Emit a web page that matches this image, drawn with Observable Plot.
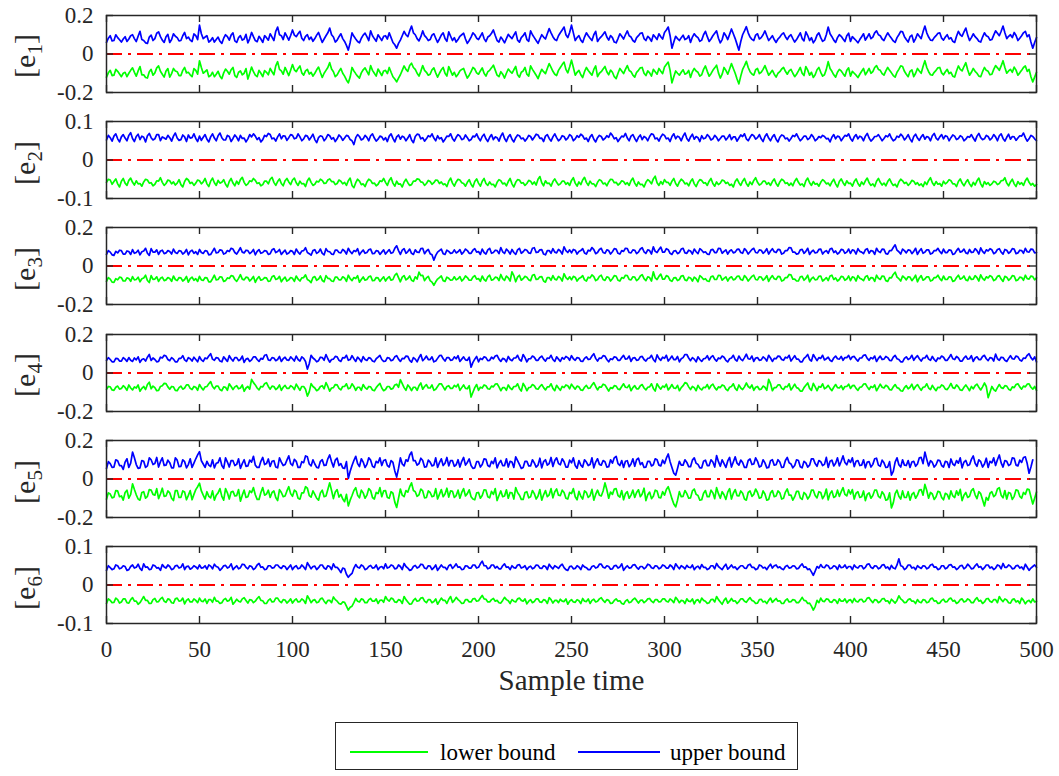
<!DOCTYPE html>
<html><head><meta charset="utf-8">
<script src="https://cdn.jsdelivr.net/npm/d3@7"></script>
<script src="https://cdn.jsdelivr.net/npm/@observablehq/plot@0.6"></script>
<style>
body{margin:0;background:#fff;font-family:"Liberation Serif","Times New Roman",serif;}
#chart{position:relative;width:1059px;height:776px;overflow:hidden;}
#chart svg{position:absolute;left:0;}
#chart svg text{font-family:"Liberation Serif","Times New Roman",serif !important;font-variant-numeric:normal !important;}
.ylab{position:absolute;left:25px;font-size:30px;color:#262626;white-space:nowrap;transform:translate(-50%,-50%) rotate(-90deg);line-height:1;}
.ylab sub{font-size:21px;vertical-align:-7px;line-height:0;}
#legend{position:absolute;left:335px;top:722px;width:463px;height:48px;box-sizing:border-box;border:1px solid #262626;background:#fff;}
</style></head>
<body><div id="chart"></div>
<script>
const xTicks = [0,50,100,150,200,250,300,350,400,450,500];
const panelLabels = ["1","2","3","4","5","6"];
const yLimits = [0.2,0.1,0.2,0.2,0.2,0.1];
const seriesNames = ["lower bound","upper bound"];

// one value per sample time 0..500, in thousandths
const e1Upper = [60,82,95,68,70,100,85,74,62,78,90,65,78,95,100,80,65,92,118,75,70,58,55,88,98,70,80,108,115,90,72,60,90,102,60,75,105,92,85,68,70,95,112,80,88,72,65,104,95,75,
150,105,80,88,95,62,70,85,62,75,88,66,55,82,100,90,72,98,110,68,60,85,95,72,78,102,58,80,112,90,70,64,92,78,60,95,85,72,105,88,70,118,140,100,95,75,110,92,72,96,
125,98,90,105,118,82,70,92,100,75,88,66,80,98,112,85,60,78,95,110,135,100,88,62,72,90,105,80,65,45,20,60,110,92,78,65,58,82,98,108,90,70,120,95,80,66,100,85,70,92,
95,78,110,85,60,48,30,55,72,95,118,100,90,120,145,110,100,80,68,90,120,95,85,70,75,98,105,82,60,78,98,110,80,66,115,92,70,85,62,75,92,100,108,78,55,70,88,110,100,82,
75,92,110,80,65,88,95,108,125,96,70,62,88,75,58,80,102,90,80,98,115,72,62,85,95,110,75,66,120,100,85,70,55,78,100,88,78,105,132,110,90,75,70,95,110,125,140,100,85,112,
150,110,70,85,95,72,60,88,110,95,82,70,100,118,65,80,90,102,115,88,72,96,85,62,58,80,105,92,78,100,120,95,88,70,62,85,95,108,110,80,70,92,82,66,100,88,75,105,90,78,
112,125,140,95,30,62,92,80,70,85,98,75,80,95,60,88,105,92,85,66,72,100,118,90,65,78,95,108,120,82,58,75,110,95,75,102,130,105,80,50,20,65,100,120,142,110,88,76,70,98,
105,78,85,100,120,95,70,82,95,75,60,78,88,102,110,90,75,92,100,80,62,75,92,110,80,68,115,96,70,85,58,72,98,110,85,66,72,100,140,105,90,72,60,85,100,92,78,65,95,108,
65,90,80,70,58,75,90,105,72,88,105,80,88,110,120,100,95,78,70,92,110,95,82,68,60,85,100,118,115,90,75,62,90,98,62,80,105,92,80,115,145,110,88,72,70,85,95,108,110,82,
72,88,100,78,85,66,60,92,118,100,92,115,135,98,70,85,105,90,80,66,62,88,110,95,90,72,75,98,120,108,95,118,145,110,80,92,100,85,112,96,70,82,95,110,118,90,100,62,30,60,
85];
const e1Lower = [-120,-98,-85,-112,-110,-80,-90,-104,-118,-100,-95,-118,-100,-85,-72,-95,-115,-88,-65,-108,-108,-122,-125,-92,-80,-110,-98,-72,-62,-90,-105,-120,-88,-76,-120,-102,-75,-88,-92,-112,-112,-85,-70,-98,-95,-108,-118,-76,-85,-105,
-35,-70,-100,-92,-82,-118,-112,-95,-118,-105,-90,-115,-128,-98,-78,-90,-105,-82,-70,-112,-122,-95,-88,-108,-100,-76,-130,-100,-68,-92,-110,-118,-85,-100,-118,-86,-95,-108,-75,-92,-108,-62,-40,-80,-88,-105,-70,-90,-112,-84,
-55,-82,-92,-75,-62,-98,-110,-88,-80,-104,-95,-115,-100,-82,-68,-96,-122,-100,-85,-70,-45,-78,-92,-118,-108,-90,-75,-100,-115,-135,-150,-120,-70,-88,-102,-115,-125,-98,-82,-72,-90,-108,-60,-85,-100,-115,-78,-95,-112,-88,
-85,-102,-70,-95,-118,-130,-145,-125,-108,-85,-62,-80,-90,-60,-48,-70,-80,-100,-115,-90,-60,-85,-95,-110,-105,-82,-72,-98,-120,-100,-82,-70,-100,-115,-65,-88,-110,-95,-118,-105,-88,-80,-75,-102,-125,-110,-92,-70,-78,-98,
-105,-88,-72,-100,-115,-92,-85,-72,-58,-84,-110,-118,-92,-105,-125,-100,-78,-90,-100,-82,-65,-108,-120,-95,-88,-70,-105,-115,-62,-80,-95,-110,-128,-102,-80,-92,-102,-75,-50,-70,-90,-105,-112,-85,-70,-55,-42,-80,-98,-68,
-32,-70,-110,-95,-85,-108,-122,-92,-70,-86,-98,-110,-80,-62,-118,-100,-92,-78,-65,-92,-108,-84,-95,-118,-128,-100,-75,-88,-102,-80,-60,-86,-92,-110,-120,-95,-85,-72,-70,-100,-112,-88,-98,-115,-80,-92,-105,-75,-90,-102,
-68,-55,-42,-85,-150,-118,-88,-100,-110,-95,-82,-105,-100,-85,-122,-92,-75,-88,-95,-115,-108,-80,-62,-90,-115,-102,-85,-72,-58,-98,-125,-105,-70,-85,-105,-78,-50,-75,-100,-130,-155,-115,-80,-60,-38,-70,-92,-104,-110,-82,
-75,-102,-95,-80,-60,-85,-110,-98,-85,-105,-120,-100,-92,-78,-70,-90,-105,-88,-80,-100,-118,-105,-88,-70,-100,-112,-65,-84,-110,-95,-122,-108,-82,-70,-95,-115,-108,-80,-40,-75,-90,-108,-120,-95,-80,-88,-102,-115,-85,-72,
-115,-90,-100,-110,-122,-105,-90,-75,-108,-92,-75,-100,-92,-70,-60,-80,-85,-102,-110,-88,-70,-85,-98,-112,-120,-95,-80,-62,-65,-90,-105,-118,-90,-82,-118,-100,-75,-88,-100,-65,-35,-70,-92,-108,-110,-95,-85,-72,-70,-98,
-108,-92,-80,-102,-95,-115,-120,-88,-62,-80,-88,-65,-45,-82,-110,-95,-75,-90,-100,-115,-118,-92,-70,-85,-90,-108,-105,-80,-60,-72,-85,-62,-35,-70,-100,-88,-80,-95,-68,-84,-110,-98,-85,-70,-62,-90,-80,-118,-145,-120,
-95];
const e2Upper = [52,64,58,49,62,68,55,47,60,66,57,50,64,71,56,48,61,67,53,62,59,47,63,69,58,52,55,66,66,50,60,57,54,64,58,49,62,70,57,51,53,65,60,48,65,57,58,68,56,48,
62,51,59,66,54,47,60,68,57,50,63,70,58,52,52,64,61,48,56,65,59,50,64,56,57,47,55,66,60,68,62,53,58,47,53,64,61,69,66,55,57,49,60,68,55,63,62,51,58,66,
64,55,57,68,60,50,55,64,62,52,59,67,53,45,58,63,61,50,56,66,63,54,58,48,55,65,60,51,57,64,62,53,50,40,58,66,61,52,55,64,59,50,63,68,57,49,54,62,60,52,
58,48,62,68,56,47,60,65,54,62,59,50,57,66,52,45,61,67,66,55,58,49,55,63,60,68,57,50,63,55,58,47,54,62,61,68,56,49,59,66,62,53,55,65,58,50,53,62,60,68,
57,50,61,67,55,48,59,66,53,60,58,49,62,70,56,48,60,66,54,47,58,65,63,55,57,49,55,64,61,52,59,67,65,56,57,48,62,66,56,49,60,68,58,50,54,63,61,52,57,66,
62,50,55,63,59,67,63,54,57,48,60,66,54,47,58,64,61,52,56,63,59,70,64,55,58,48,55,62,60,69,57,50,62,66,56,48,59,65,53,61,58,50,61,68,66,55,57,49,60,67,
64,55,57,48,61,68,55,62,59,50,62,70,56,49,60,67,54,61,58,48,63,55,57,66,61,52,55,64,59,50,56,62,62,52,58,66,53,60,60,49,57,65,61,68,55,50,59,66,63,54,
58,66,55,48,61,68,57,50,60,66,54,47,59,65,63,55,57,49,56,64,61,68,58,50,55,62,62,53,57,66,60,50,54,61,58,64,61,55,56,47,59,66,55,62,60,50,57,64,62,68,
56,49,60,66,55,62,59,50,62,69,57,49,54,61,61,66,58,50,56,63,60,68,57,50,53,62,59,67,62,52,58,66,55,47,61,67,57,51,60,66,54,61,59,50,63,69,57,52,60,66,
55,63,61,50,58,65,62,53,56,63,60,50,54,61,59,66,57,49,62,69,58,53,55,64,61,52,57,66,60,50,63,68,56,49,59,67,54,61,60,51,57,63,62,70,58,49,55,64,61,55,
50];
const e2Lower = [-58,-50,-52,-63,-56,-49,-62,-70,-55,-48,-60,-66,-53,-47,-58,-65,-54,-62,-61,-68,-57,-50,-52,-60,-59,-67,-63,-54,-55,-46,-58,-66,-61,-52,-54,-62,-57,-65,-60,-51,-64,-70,-56,-48,-52,-61,-58,-66,-60,-52,
-54,-62,-57,-48,-62,-69,-55,-47,-59,-66,-53,-60,-58,-51,-63,-70,-56,-48,-60,-67,-55,-63,-51,-45,-58,-66,-62,-54,-56,-48,-53,-61,-59,-67,-64,-55,-55,-62,-50,-45,-58,-66,-56,-49,-61,-67,-54,-48,-57,-64,
-52,-47,-59,-66,-55,-62,-61,-69,-54,-47,-58,-66,-63,-55,-57,-50,-53,-61,-60,-52,-49,-56,-56,-64,-61,-52,-55,-62,-58,-66,-54,-47,-66,-72,-59,-50,-55,-64,-62,-69,-57,-50,-53,-61,-60,-67,-63,-54,-56,-48,
-58,-66,-53,-46,-60,-68,-55,-63,-62,-70,-57,-50,-59,-66,-64,-55,-55,-49,-50,-57,-58,-66,-61,-53,-56,-63,-59,-52,-53,-61,-57,-64,-62,-69,-55,-47,-60,-68,-57,-50,-52,-59,-61,-68,-58,-51,-63,-70,-56,-49,
-60,-68,-55,-48,-61,-66,-57,-64,-63,-70,-58,-51,-54,-62,-60,-67,-56,-48,-62,-70,-58,-51,-52,-60,-59,-66,-61,-53,-55,-63,-57,-65,-50,-43,-59,-67,-54,-61,-60,-68,-56,-49,-58,-65,-62,-55,-55,-63,-59,-66,
-53,-46,-60,-68,-57,-64,-52,-45,-58,-66,-55,-62,-62,-69,-58,-51,-54,-62,-60,-67,-57,-50,-51,-59,-58,-65,-61,-54,-56,-63,-59,-66,-54,-47,-60,-68,-57,-64,-63,-70,-58,-51,-55,-62,-49,-42,-59,-66,-56,-63,
-51,-58,-58,-66,-55,-48,-61,-68,-57,-50,-54,-62,-60,-67,-56,-49,-62,-69,-58,-51,-53,-60,-59,-66,-55,-48,-61,-68,-57,-64,-60,-52,-54,-61,-58,-66,-63,-70,-56,-49,-59,-66,-55,-48,-61,-68,-57,-64,-53,-46,
-58,-65,-62,-55,-55,-63,-59,-66,-56,-49,-61,-68,-57,-50,-53,-61,-59,-66,-60,-67,-55,-48,-58,-65,-62,-69,-54,-47,-59,-66,-56,-63,-61,-68,-58,-51,-55,-62,-60,-67,-57,-50,-62,-70,-56,-49,-59,-66,-54,-61,
-60,-68,-56,-49,-61,-68,-57,-64,-54,-47,-59,-66,-62,-69,-55,-48,-58,-65,-60,-67,-56,-49,-59,-66,-63,-70,-57,-50,-54,-61,-58,-66,-61,-53,-55,-63,-59,-66,-62,-69,-57,-64,-53,-46,-59,-66,-56,-63,-61,-68,
-55,-62,-58,-51,-54,-62,-62,-69,-56,-49,-60,-67,-58,-51,-62,-69,-58,-65,-54,-47,-62,-70,-56,-63,-59,-66,-62,-55,-57,-64,-61,-54,-53,-46,-60,-67,-57,-50,-62,-69,-56,-63,-59,-66,-54,-47,-58,-65,-61,-68,
-64];
const e3Upper = [60,80,72,58,55,76,68,82,80,62,62,78,75,60,85,66,70,82,58,74,78,92,66,55,90,72,72,84,60,78,82,64,68,80,75,62,88,70,65,80,78,62,70,86,58,76,82,66,74,60,
86,70,65,80,78,58,60,76,92,68,70,84,82,62,66,80,75,92,88,70,62,78,95,72,68,82,80,64,72,86,58,76,85,66,70,80,78,60,64,84,90,70,75,86,60,72,82,62,68,80,
76,60,88,72,62,78,80,95,70,64,56,80,85,66,72,88,66,58,90,76,74,62,60,82,82,70,68,86,78,62,92,75,64,80,75,90,58,72,83,66,70,84,88,64,65,80,78,60,72,84,
62,74,85,66,70,92,105,80,60,82,90,66,75,88,66,60,84,72,70,90,92,64,78,86,64,58,30,55,72,80,88,64,60,82,76,66,68,84,68,74,85,62,72,88,80,66,66,82,90,72,
75,60,88,70,62,84,92,66,70,82,80,64,96,74,65,88,78,62,86,70,60,84,92,66,74,86,82,68,66,92,95,70,72,84,85,62,58,80,80,66,90,72,68,86,78,62,100,80,70,84,
68,86,82,62,75,80,90,68,62,82,78,96,85,64,70,86,92,70,66,84,80,62,74,90,88,66,62,80,76,92,90,70,68,84,82,64,72,88,95,74,65,84,80,62,100,76,70,86,98,72,
72,90,85,66,60,78,80,64,70,88,92,68,66,82,78,62,88,74,64,90,82,70,74,62,60,84,86,70,70,92,90,66,76,84,62,78,84,68,72,86,88,70,66,90,80,62,74,86,92,70,
68,84,82,66,75,90,62,78,90,74,70,86,85,62,66,80,80,96,94,72,72,62,64,84,86,66,76,92,60,74,82,68,70,86,88,62,74,80,66,88,92,70,78,62,70,86,84,66,72,88,
65,84,80,62,90,76,72,64,84,90,66,80,78,60,92,76,70,88,86,64,62,80,80,96,110,82,74,62,88,80,68,84,82,64,76,92,60,78,90,66,72,84,84,62,66,80,80,92,75,64,
88,70,70,84,82,60,64,80,92,72,76,88,68,64,86,70,72,90,80,62,94,76,66,84,78,90,84,64,70,86,90,72,62,86,82,66,74,90,88,64,68,82,80,66,92,74,72,88,86,68,
70];
const e3Lower = [-80,-60,-68,-84,-85,-66,-72,-58,-60,-78,-78,-62,-65,-80,-55,-72,-70,-58,-82,-66,-62,-48,-75,-86,-50,-70,-68,-56,-80,-64,-58,-76,-72,-60,-65,-80,-52,-70,-76,-60,-62,-78,-70,-54,-84,-66,-58,-74,-66,-80,
-54,-72,-75,-60,-62,-82,-82,-66,-48,-72,-70,-56,-58,-80,-76,-62,-65,-50,-52,-70,-80,-64,-45,-68,-72,-58,-60,-78,-68,-54,-85,-66,-55,-74,-70,-60,-62,-80,-78,-56,-50,-70,-66,-54,-82,-68,-58,-78,-72,-60,
-64,-80,-52,-68,-78,-62,-60,-46,-70,-76,-86,-60,-55,-74,-68,-52,-75,-82,-50,-64,-66,-78,-80,-58,-58,-72,-72,-56,-62,-80,-48,-66,-76,-60,-65,-50,-84,-70,-57,-74,-70,-56,-52,-76,-75,-60,-62,-80,-68,-56,
-78,-64,-55,-74,-70,-48,-38,-60,-82,-58,-50,-72,-65,-52,-74,-80,-56,-68,-32,-50,-48,-76,-62,-54,-76,-84,-100,-82,-68,-60,-52,-76,-80,-58,-64,-74,-72,-56,-72,-66,-55,-78,-68,-52,-60,-74,-74,-58,-50,-68,
-65,-80,-52,-70,-78,-56,-48,-74,-70,-58,-60,-76,-44,-66,-75,-52,-62,-78,-30,-50,-82,-58,-48,-74,-66,-54,-58,-72,-76,-48,-45,-70,-68,-56,-55,-78,-84,-60,-60,-74,-50,-68,-72,-54,-62,-78,-40,-60,-70,-56,
-72,-54,-58,-78,-65,-60,-50,-72,-78,-58,-62,-46,-55,-76,-70,-54,-48,-70,-75,-56,-60,-78,-66,-50,-52,-74,-78,-60,-64,-48,-50,-70,-72,-56,-58,-76,-68,-52,-45,-66,-76,-56,-60,-78,-30,-62,-70,-54,-42,-68,
-68,-50,-55,-74,-80,-62,-60,-76,-70,-52,-50,-72,-76,-58,-62,-78,-58,-66,-82,-50,-58,-70,-66,-78,-80,-56,-52,-70,-70,-48,-50,-74,-64,-56,-78,-62,-56,-72,-68,-54,-52,-70,-74,-50,-60,-78,-66,-54,-48,-70,
-72,-56,-58,-74,-65,-50,-80,-62,-50,-66,-70,-54,-55,-78,-74,-60,-60,-44,-46,-68,-68,-78,-78,-56,-54,-74,-64,-48,-82,-66,-58,-72,-70,-54,-52,-78,-70,-60,-76,-52,-48,-70,-62,-78,-70,-54,-56,-74,-68,-52,
-76,-56,-60,-78,-50,-64,-68,-76,-56,-50,-74,-60,-62,-80,-48,-64,-70,-52,-54,-76,-80,-60,-62,-44,-32,-58,-66,-78,-52,-60,-72,-56,-58,-76,-64,-48,-82,-62,-50,-74,-68,-56,-56,-78,-74,-60,-60,-48,-66,-76,
-52,-70,-70,-56,-58,-80,-76,-60,-48,-68,-64,-52,-72,-76,-54,-70,-68,-50,-60,-78,-46,-64,-74,-56,-62,-50,-56,-76,-70,-54,-50,-68,-80,-54,-58,-74,-66,-50,-52,-76,-72,-58,-60,-74,-48,-66,-68,-52,-55,-72,
-62];
const e4Upper = [65,80,70,58,58,76,75,62,62,80,72,60,80,66,60,78,68,84,55,70,74,62,82,96,65,78,70,58,60,82,78,92,88,70,64,80,72,58,58,76,76,90,68,60,80,74,62,82,70,58,
85,68,60,78,74,88,100,72,66,80,78,62,58,84,72,60,90,74,62,80,80,64,70,88,55,72,76,60,68,84,84,70,60,76,72,92,95,68,65,80,78,64,70,86,60,74,82,68,66,84,
74,62,88,70,62,84,76,60,20,48,92,78,70,58,64,82,80,66,96,74,56,70,72,86,84,66,60,80,78,92,66,70,90,74,60,82,72,58,85,70,65,80,76,62,58,74,82,92,70,60,
62,80,78,64,68,84,90,72,60,76,74,88,86,66,56,80,72,58,80,96,64,74,88,70,70,84,58,62,76,90,92,74,62,80,80,66,68,84,74,90,60,72,84,68,66,82,30,55,72,86,
58,76,70,84,80,64,66,82,74,88,92,72,60,76,72,58,86,70,64,78,78,92,70,62,96,80,58,74,74,88,82,66,66,80,88,72,62,78,76,92,70,60,84,72,60,80,72,86,80,66,
90,74,66,80,78,62,60,76,84,70,72,88,100,76,62,78,76,90,88,70,58,74,70,84,82,66,66,80,92,72,74,88,60,78,80,66,68,84,86,70,62,76,78,92,70,58,94,76,66,82,
76,92,62,74,88,70,70,86,58,74,80,96,96,78,64,80,72,58,84,70,60,74,76,90,68,82,90,72,62,78,74,88,82,66,58,74,78,92,70,62,88,72,64,80,98,74,72,88,60,78,
80,66,68,84,76,62,92,78,60,76,74,88,86,70,66,82,78,92,62,76,90,72,72,58,58,76,84,96,70,62,96,80,64,80,76,92,68,74,82,66,60,78,88,74,72,86,66,80,80,92,
70,84,86,72,62,78,78,92,94,76,66,80,74,88,60,76,88,70,72,86,80,66,64,82,92,74,70,58,58,76,84,70,76,92,66,80,90,74,62,78,78,92,72,66,86,70,60,78,74,88,
82,66,66,80,96,74,70,86,78,62,62,78,88,72,74,90,60,78,84,70,70,86,92,74,64,80,78,62,98,74,66,82,80,66,60,76,90,74,72,88,84,68,62,78,76,92,100,80,68,84,
58];
const e4Lower = [-85,-70,-72,-88,-90,-74,-68,-84,-80,-66,-75,-90,-62,-78,-88,-72,-78,-62,-95,-80,-70,-86,-60,-48,-82,-68,-76,-92,-90,-70,-66,-54,-55,-72,-84,-70,-72,-90,-92,-76,-68,-84,-78,-62,-62,-80,-86,-70,-74,-90,
-60,-76,-88,-72,-70,-56,-45,-70,-82,-68,-68,-86,-92,-72,-74,-90,-56,-70,-86,-72,-66,-82,-78,-62,-95,-78,-70,-84,-33,-50,-62,-78,-88,-70,-72,-56,-50,-70,-84,-68,-70,-86,-78,-62,-90,-74,-64,-80,-80,-66,
-72,-86,-58,-74,-90,-70,-70,-84,-120,-98,-55,-70,-78,-92,-86,-70,-66,-82,-50,-70,-94,-78,-76,-60,-62,-80,-88,-70,-70,-56,-82,-78,-56,-70,-90,-74,-74,-90,-60,-76,-84,-70,-72,-88,-92,-76,-64,-54,-78,-92,
-86,-70,-70,-84,-80,-62,-58,-74,-35,-55,-76,-90,-62,-74,-92,-74,-74,-90,-66,-52,-84,-70,-60,-78,-78,-62,-90,-84,-70,-56,-56,-72,-88,-70,-66,-80,-80,-64,-72,-58,-90,-76,-62,-80,-82,-66,-125,-100,-76,-60,
-90,-74,-78,-62,-66,-82,-84,-68,-72,-58,-56,-72,-92,-76,-76,-90,-62,-78,-86,-70,-70,-56,-80,-94,-54,-70,-92,-76,-74,-60,-66,-82,-84,-70,-60,-76,-88,-72,-72,-56,-80,-92,-64,-78,-90,-70,-76,-62,-66,-82,
-58,-72,-84,-68,-72,-88,-90,-74,-64,-80,-78,-62,-50,-70,-88,-72,-74,-58,-62,-78,-94,-76,-80,-66,-68,-84,-86,-70,-56,-74,-76,-62,-92,-76,-66,-82,-82,-66,-60,-78,-88,-74,-72,-56,-80,-94,-56,-72,-84,-68,
-74,-58,-88,-76,-60,-78,-80,-64,-92,-76,-66,-50,-54,-72,-86,-70,-76,-92,-64,-80,-88,-74,-76,-60,-82,-66,-58,-76,-88,-72,-76,-62,-66,-84,-92,-74,-70,-56,-80,-90,-62,-78,-86,-72,-52,-70,-78,-62,-90,-74,
-70,-86,-84,-68,-74,-90,-33,-55,-92,-76,-76,-62,-62,-80,-86,-70,-72,-56,-88,-74,-58,-76,-80,-94,-94,-76,-64,-52,-80,-90,-54,-72,-92,-70,-74,-56,-82,-76,-64,-80,-92,-74,-60,-76,-78,-66,-86,-70,-70,-58,
-80,-66,-64,-80,-90,-74,-72,-58,-56,-72,-86,-70,-76,-62,-92,-76,-58,-74,-78,-64,-70,-86,-88,-72,-60,-76,-80,-92,-94,-76,-66,-82,-74,-58,-86,-70,-60,-76,-90,-74,-72,-56,-78,-86,-64,-80,-92,-74,-76,-62,
-68,-84,-86,-72,-54,-76,-80,-62,-72,-88,-90,-74,-62,-76,-92,-70,-82,-66,-58,-74,-88,-72,-52,-70,-128,-100,-70,-86,-94,-76,-60,-76,-80,-66,-68,-84,-90,-72,-76,-60,-56,-72,-84,-68,-72,-58,-56,-74,-84,-70,
-90];
const e5Upper = [55,90,80,60,62,100,95,70,70,50,88,105,60,82,140,110,75,55,58,96,92,60,68,110,100,75,80,112,62,90,110,70,72,98,85,58,58,110,98,64,66,100,90,58,75,105,60,82,105,125,
142,95,78,60,92,72,65,100,58,82,85,110,70,55,110,88,62,96,95,70,76,105,55,80,100,66,68,98,88,118,72,60,60,92,112,75,80,104,65,92,95,62,58,110,88,70,75,98,120,80,
70,102,92,60,60,90,85,120,115,78,68,100,78,60,58,92,100,70,72,105,125,90,62,98,108,70,80,58,55,90,3,40,70,96,118,80,65,105,88,60,76,110,98,66,60,92,84,110,70,96,
100,70,62,96,86,42,10,55,110,78,68,100,92,125,140,95,95,72,80,108,96,62,64,98,88,68,72,110,60,85,105,70,82,112,68,96,95,66,74,100,62,92,112,72,86,104,70,55,58,90,
90,62,75,105,102,70,64,92,80,110,58,82,96,70,70,105,62,92,88,60,115,95,76,55,60,92,92,68,68,100,84,62,72,108,58,90,100,72,80,112,65,96,110,80,74,105,90,62,62,98,
84,110,70,56,96,72,62,100,88,70,75,110,58,88,105,76,72,96,90,62,64,100,82,110,118,80,70,96,60,92,95,64,78,105,66,100,108,75,85,60,62,92,92,68,74,105,100,72,68,98,
80,108,130,90,60,30,20,55,92,72,72,100,86,64,64,98,110,82,76,58,58,92,98,70,70,100,88,62,122,90,66,100,80,60,94,112,62,88,115,82,72,98,86,60,60,96,104,75,78,110,
92,62,68,100,84,58,60,95,100,72,74,100,88,60,62,96,112,84,78,58,70,100,96,64,58,92,84,62,72,105,105,80,66,96,90,70,76,112,60,92,98,68,82,110,68,92,120,86,74,100,
86,110,64,92,96,70,72,100,58,88,90,62,76,105,108,72,66,98,84,60,62,90,20,40,88,110,74,62,100,72,70,96,60,88,92,66,78,110,112,80,140,102,68,95,86,62,74,98,96,70,
62,92,88,60,104,78,70,96,82,110,58,88,96,70,74,102,120,82,66,100,90,62,78,108,60,92,84,110,70,100,125,84,62,96,92,70,76,110,108,72,68,98,86,112,115,80,30,62,
100];
const e5Lower = [-105,-72,-78,-98,-95,-60,-62,-92,-88,-110,-70,-58,-100,-80,-25,-55,-82,-104,-110,-70,-66,-100,-90,-55,-58,-80,-84,-50,-102,-78,-48,-90,-88,-62,-72,-100,-112,-60,-60,-96,-95,-62,-68,-108,-85,-60,-108,-80,-55,-40,
-22,-62,-84,-104,-66,-90,-98,-62,-110,-84,-72,-50,-90,-110,-50,-72,-104,-68,-64,-88,-86,-55,-115,-84,-58,-96,-92,-62,-70,-45,-82,-106,-106,-70,-45,-84,-78,-58,-96,-70,-62,-96,-112,-55,-70,-92,-88,-62,-40,-76,
-90,-58,-66,-100,-105,-72,-72,-40,-48,-86,-94,-62,-80,-100,-110,-72,-58,-92,-88,-55,-20,-60,-102,-68,-55,-94,-80,-104,-118,-80,-140,-110,-86,-60,-45,-84,-98,-58,-72,-100,-84,-50,-60,-96,-104,-70,-76,-45,-92,-62,
-60,-96,-100,-66,-74,-120,-148,-100,-52,-84,-92,-60,-68,-40,-20,-60,-66,-90,-82,-52,-62,-98,-96,-62,-70,-92,-88,-50,-104,-80,-55,-92,-78,-48,-94,-62,-64,-96,-86,-58,-100,-70,-50,-88,-76,-56,-92,-104,-108,-72,
-70,-100,-86,-56,-58,-92,-98,-64,-80,-50,-112,-86,-62,-92,-88,-56,-100,-70,-72,-104,-45,-70,-84,-106,-106,-70,-66,-98,-92,-60,-76,-104,-88,-55,-110,-82,-60,-92,-82,-50,-98,-66,-52,-84,-86,-58,-70,-100,-104,-70,
-76,-50,-92,-108,-64,-90,-104,-62,-70,-96,-86,-54,-110,-80,-58,-84,-88,-62,-20,-56,-100,-68,-80,-52,-50,-86,-94,-60,-108,-76,-66,-100,-84,-58,-96,-70,-56,-92,-78,-48,-112,-82,-68,-102,-90,-58,-62,-96,-98,-66,
-84,-54,-40,-70,-102,-130,-145,-110,-66,-92,-90,-60,-76,-100,-98,-62,-52,-80,-86,-110,-108,-74,-60,-92,-92,-58,-72,-102,-45,-76,-100,-66,-82,-106,-68,-50,-104,-74,-55,-86,-88,-62,-74,-104,-110,-70,-62,-90,-80,-52,
-70,-100,-96,-62,-78,-110,-106,-72,-60,-92,-88,-62,-72,-104,-100,-68,-52,-84,-84,-110,-92,-64,-64,-98,-106,-70,-80,-104,-90,-58,-58,-86,-98,-66,-70,-102,-86,-52,-108,-76,-62,-96,-90,-58,-90,-66,-45,-80,-88,-56,
-78,-55,-104,-74,-66,-96,-92,-62,-112,-80,-72,-100,-86,-58,-58,-90,-98,-66,-80,-110,-106,-72,-150,-124,-76,-58,-90,-104,-62,-96,-96,-66,-110,-80,-70,-100,-84,-58,-55,-84,-28,-60,-100,-70,-78,-106,-92,-64,-68,-96,
-108,-74,-80,-104,-62,-88,-96,-62,-84,-54,-112,-84,-70,-96,-90,-60,-50,-82,-102,-66,-76,-108,-140,-96,-110,-74,-66,-92,-82,-52,-45,-84,-98,-60,-104,-70,-74,-106,-90,-56,-60,-90,-100,-70,-80,-52,-55,-92,-130,-100,
-68];
const e6Upper = [38,50,45,40,42,52,50,42,44,50,48,38,40,48,52,44,46,54,43,38,55,46,47,40,41,52,50,44,45,38,53,47,44,52,48,40,42,50,51,44,46,55,40,48,49,41,44,50,47,42,
52,44,45,50,41,52,49,42,54,48,46,38,43,50,51,44,47,55,40,45,50,42,45,54,53,46,42,50,48,40,44,52,56,46,47,40,41,50,50,44,45,52,52,46,43,50,48,40,46,52,
40,47,50,42,44,52,47,40,58,50,42,48,49,40,45,52,52,44,41,50,48,40,55,46,46,40,32,44,42,28,20,26,30,44,53,46,44,52,49,40,42,48,51,44,45,52,40,46,48,42,
55,44,46,52,50,42,43,52,48,40,56,48,44,38,40,48,51,44,47,54,53,44,42,50,49,40,45,52,38,45,52,46,46,40,50,53,43,48,55,46,47,40,41,50,49,44,44,52,52,44,
46,55,62,50,50,42,44,52,52,44,48,42,42,50,55,46,47,40,50,45,44,52,53,44,46,50,40,46,49,42,45,52,51,44,43,50,48,40,54,47,42,50,47,43,50,54,45,40,38,48,
49,42,43,50,47,40,52,47,45,40,40,48,50,44,46,54,54,46,44,50,48,41,42,50,51,44,47,55,38,45,50,44,45,52,53,46,41,48,48,42,46,54,52,45,43,50,49,42,45,52,
50,44,44,52,48,40,55,48,42,50,47,42,51,46,45,52,40,46,49,42,53,46,46,40,43,50,50,42,56,48,44,40,48,54,41,46,52,45,47,40,45,50,50,44,43,52,54,46,46,40,
42,52,50,44,46,40,48,54,44,50,52,45,47,42,40,48,51,44,45,50,49,42,43,50,55,46,47,40,42,34,25,36,48,44,53,46,45,52,50,42,44,50,48,40,52,45,46,52,43,48,
48,40,52,46,44,50,50,42,46,54,55,46,43,50,49,42,45,52,53,44,47,40,51,44,42,52,68,50,48,40,44,52,52,44,46,40,50,46,43,50,49,42,45,52,54,46,47,40,42,50,
50,42,45,52,53,46,47,40,44,50,51,42,46,54,49,42,43,50,55,46,48,40,45,52,52,44,47,40,44,52,50,42,56,46,46,52,49,42,43,50,51,44,47,40,54,46,38,44,48,52,
46];
const e6Lower = [-48,-36,-40,-46,-45,-34,-38,-47,-44,-36,-36,-46,-47,-38,-33,-42,-42,-50,-46,-38,-30,-40,-40,-48,-48,-38,-35,-44,-43,-36,-32,-42,-45,-36,-38,-46,-47,-36,-34,-42,-41,-34,-49,-40,-36,-44,-44,-36,-40,-46,
-34,-42,-43,-36,-48,-38,-38,-45,-32,-42,-42,-48,-46,-38,-35,-42,-40,-32,-50,-44,-37,-42,-44,-36,-33,-40,-47,-38,-39,-46,-42,-35,-30,-40,-41,-48,-48,-40,-36,-44,-43,-34,-34,-42,-46,-38,-39,-47,-42,-36,
-47,-40,-36,-44,-43,-36,-40,-48,-28,-36,-46,-40,-38,-46,-44,-36,-34,-42,-48,-40,-40,-46,-31,-38,-42,-48,-50,-44,-45,-55,-65,-58,-55,-46,-35,-42,-44,-36,-38,-46,-46,-38,-35,-42,-42,-36,-48,-40,-39,-45,
-30,-38,-42,-34,-36,-44,-45,-38,-40,-48,-30,-38,-44,-50,-49,-40,-35,-42,-41,-34,-33,-42,-46,-38,-38,-46,-43,-36,-50,-42,-34,-40,-40,-48,-37,-30,-45,-40,-32,-38,-42,-48,-47,-38,-38,-44,-44,-36,-35,-42,
-41,-34,-27,-36,-37,-44,-44,-38,-35,-42,-40,-46,-47,-40,-32,-38,-41,-48,-38,-42,-44,-36,-34,-40,-42,-36,-49,-42,-38,-46,-43,-36,-36,-44,-45,-38,-40,-48,-33,-38,-47,-40,-40,-46,-37,-42,-43,-36,-50,-42,
-38,-44,-45,-38,-41,-48,-35,-42,-43,-36,-48,-40,-37,-44,-42,-36,-33,-40,-45,-38,-40,-48,-47,-40,-36,-42,-41,-48,-50,-42,-38,-46,-44,-38,-34,-40,-47,-40,-39,-46,-42,-36,-35,-42,-46,-38,-38,-44,-43,-36,
-36,-42,-44,-36,-40,-46,-32,-38,-46,-40,-41,-48,-36,-42,-43,-36,-49,-40,-38,-46,-34,-40,-42,-48,-46,-38,-37,-44,-30,-38,-44,-50,-40,-34,-47,-42,-35,-42,-41,-48,-43,-36,-36,-42,-45,-38,-33,-40,-42,-48,
-47,-38,-37,-44,-42,-48,-40,-34,-45,-40,-35,-42,-41,-48,-48,-40,-36,-44,-43,-38,-39,-46,-46,-40,-32,-40,-41,-48,-47,-55,-65,-56,-40,-46,-34,-42,-43,-36,-37,-44,-45,-38,-40,-48,-36,-42,-42,-36,-46,-40,
-38,-46,-35,-42,-44,-38,-37,-44,-42,-34,-33,-40,-46,-38,-39,-46,-43,-36,-35,-42,-41,-48,-37,-42,-47,-40,-28,-36,-40,-46,-45,-38,-36,-42,-42,-48,-38,-44,-46,-38,-39,-46,-44,-36,-34,-42,-41,-48,-47,-40,
-37,-44,-43,-36,-34,-42,-40,-48,-45,-38,-36,-44,-42,-36,-39,-46,-46,-38,-33,-42,-40,-48,-44,-36,-35,-42,-45,-38,-38,-46,-30,-38,-43,-36,-39,-46,-47,-38,-36,-44,-41,-48,-34,-40,-49,-42,-40,-46,-36,-44,
-42];

const upperSeries = [e1Upper,e2Upper,e3Upper,e4Upper,e5Upper,e6Upper];
const lowerSeries = [e1Lower,e2Lower,e3Lower,e4Lower,e5Lower,e6Lower];

// styles
const FONT = '"Liberation Serif","Times New Roman",serif';
const AXIS = "#262626";
const LOWER_COLOR = "#00ff00";
const UPPER_COLOR = "#0000ff";
const ZERO_COLOR = "#ff0000";
const W = 1059, ML = 106, MR = 23, PH = 77, PT = 12, STEP = 106.3, C0 = 53.3;
const PW = W - ML - MR;
const fmtY = d => d === 0 ? "0" : (d < 0 ? "-" : "") + Math.abs(d);

const chart = document.getElementById("chart");
panelLabels.forEach((lab, i) => {
  const last = i === panelLabels.length - 1;
  const L = yLimits[i];
  const yTicks = [-L, 0, L];
  const center = C0 + STEP * i;
  const MB = last ? 80 : PT;
  const marks = [
    Plot.line(lowerSeries[i], {x: (d, k) => k, y: d => d / 1000, stroke: LOWER_COLOR, strokeWidth: 1.7}),
    Plot.line(upperSeries[i], {x: (d, k) => k, y: d => d / 1000, stroke: UPPER_COLOR, strokeWidth: 1.7}),
    Plot.ruleY([0], {stroke: ZERO_COLOR, strokeWidth: 2, strokeDasharray: "16,6,3,6"}),
    Plot.tickX(xTicks, {x: d => d, stroke: AXIS, strokeWidth: 1.4, insetBottom: PH - 7}),
    Plot.tickX(xTicks, {x: d => d, stroke: AXIS, strokeWidth: 1.4, insetTop: PH - 7}),
    Plot.tickY(yTicks, {y: d => d, stroke: AXIS, strokeWidth: 1.4, insetRight: PW - 7}),
    Plot.tickY(yTicks, {y: d => d, stroke: AXIS, strokeWidth: 1.4, insetLeft: PW - 7}),
    Plot.frame({stroke: AXIS, strokeWidth: 1.5}),
    Plot.axisY({ticks: yTicks, tickSize: 0, tickPadding: 13, tickFormat: fmtY, fontSize: 23, fontFamily: FONT, label: null, fill: AXIS})
  ];
  if (last) {
    marks.push(Plot.axisX({ticks: xTicks, tickSize: 0, tickPadding: 17, tickFormat: d => String(d), fontSize: 23, fontFamily: FONT, label: null, fill: AXIS}));
    marks.push(Plot.text(["Sample time"], {text: d => d, frameAnchor: "bottom", dy: 66, fontSize: 29, fontFamily: FONT, fill: AXIS}));
  }
  const svg = Plot.plot({
    width: W, height: PT + PH + MB,
    marginLeft: ML, marginRight: MR, marginTop: PT, marginBottom: MB,
    x: {domain: [0, 500], label: null, ...(last ? {} : {axis: null})},
    y: {domain: [-L, L], label: null},
    style: {fontFamily: FONT, fontSize: "23px", color: AXIS, background: "transparent", overflow: "visible"},
    marks
  });
  svg.style.top = (center - PH / 2 - PT) + "px";
  chart.appendChild(svg);

  const yl = document.createElement("div");
  yl.className = "ylab";
  yl.style.top = (center + 3) + "px";
  yl.innerHTML = "[e<sub>" + lab + "</sub>]";
  chart.appendChild(yl);
});

// legend
const legend = document.createElement("div");
legend.id = "legend";
const colorsByName = [LOWER_COLOR, UPPER_COLOR];
const lsvg = d3.create("svg").attr("width", 461).attr("height", 46).style("position", "absolute").style("left", "0").style("top", "0");
const xs = [[14, 92, 104], [242, 324, 334]];
seriesNames.forEach((name, j) => {
  lsvg.append("line").attr("x1", xs[j][0]).attr("x2", xs[j][1]).attr("y1", 29).attr("y2", 29)
    .attr("stroke", colorsByName[j]).attr("stroke-width", 1.8);
  lsvg.append("text").attr("x", xs[j][2]).attr("y", 37).attr("font-family", FONT).attr("font-size", 23)
    .attr("fill", "#000").text(name);
});
legend.appendChild(lsvg.node());
chart.appendChild(legend);
</script>
</body></html>
